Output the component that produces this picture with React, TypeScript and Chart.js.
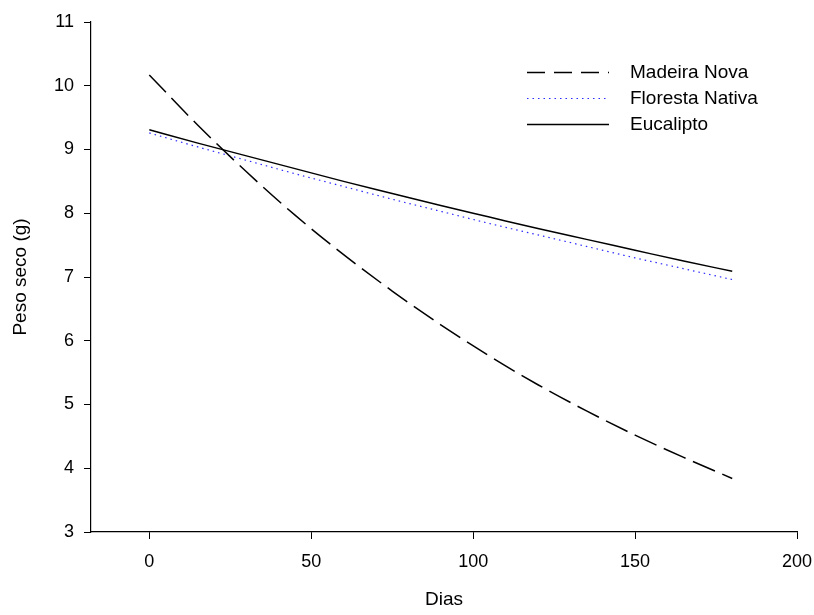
import React, { useEffect, useRef } from "react";
import { Chart, registerables } from "chart.js";

Chart.register(...registerables);

// Data
const days = [0, 15, 30, 45, 60, 75, 90, 105, 120, 135, 150, 165, 180];
const madeiraNova = [10.17, 9.38, 8.65, 7.97, 7.35, 6.78, 6.25, 5.76, 5.31, 4.9, 4.52, 4.17, 3.84];
const florestaNativa = [9.26, 9.04, 8.83, 8.62, 8.42, 8.22, 8.03, 7.84, 7.66, 7.48, 7.3, 7.13, 6.96];
const eucalipto = [9.31, 9.1, 8.9, 8.7, 8.5, 8.31, 8.12, 7.94, 7.76, 7.59, 7.42, 7.25, 7.09];
const seriesLabels = ["Madeira Nova", "Floresta Nativa", "Eucalipto"];
const xTicks = [0, 50, 100, 150, 200];
const yTicks = [3, 4, 5, 6, 7, 8, 9, 10, 11];
const xTitle = "Dias";
const yTitle = "Peso seco (g)";

const FONT = "'Liberation Sans', Arial, Helvetica, sans-serif";

const legendPlugin = {
  id: "insideLegend",
  afterDraw(chart: any) {
    const ctx = chart.ctx;
    const x0 = 527;
    const x1 = 609;
    const tx = 630;
    const rows = [72, 98, 124];
    ctx.save();
    chart.data.datasets.forEach((ds: any, i: number) => {
      const y = rows[i];
      ctx.beginPath();
      ctx.strokeStyle = ds.borderColor;
      ctx.lineWidth = ds.borderWidth;
      ctx.setLineDash(ds.legendDash || ds.borderDash || []);
      ctx.moveTo(x0, y + 0.5);
      ctx.lineTo(x1, y + 0.5);
      ctx.stroke();
      ctx.setLineDash([]);
      ctx.fillStyle = "#000";
      ctx.font = `19px ${FONT}`;
      ctx.textBaseline = "middle";
      ctx.textAlign = "left";
      ctx.fillText(ds.label, tx, y + 1);
    });
    ctx.restore();
  },
};

export default function App() {
  const ref = useRef<HTMLCanvasElement | null>(null);

  useEffect(() => {
    if (!ref.current) return;
    const mk = (vals: number[]) => days.map((d, i) => ({ x: d, y: vals[i] }));
    const chart = new Chart(ref.current, {
      type: "line",
      data: {
        datasets: [
          {
            label: seriesLabels[0],
            data: mk(madeiraNova),
            borderColor: "#000000",
            borderWidth: 1.5,
            borderDash: [24, 8],
            legendDash: [18, 9],
            pointRadius: 0,
            fill: false,
            cubicInterpolationMode: "monotone",
          } as any,
          {
            label: seriesLabels[1],
            data: mk(florestaNativa),
            borderColor: "#2a2aff",
            borderWidth: 1.2,
            borderDash: [1.5, 4],
            pointRadius: 0,
            fill: false,
            cubicInterpolationMode: "monotone",
          } as any,
          {
            label: seriesLabels[2],
            data: mk(eucalipto),
            borderColor: "#000000",
            borderWidth: 1.5,
            pointRadius: 0,
            fill: false,
            cubicInterpolationMode: "monotone",
          } as any,
        ],
      },
      options: {
        responsive: false,
        animation: false,
        devicePixelRatio: 1,
        layout: { padding: { top: 22, right: 17, left: 0, bottom: 0 } },
        plugins: {
          legend: { display: false },
          tooltip: { enabled: false },
        },
        scales: {
          x: {
            type: "linear",
            min: -18,
            max: 200,
            position: "bottom",
            afterBuildTicks: (s: any) => {
              s.ticks = xTicks.map((v) => ({ value: v }));
            },
            afterFit: (s: any) => {
              s.height = 83;
              s.paddingLeft = 0;
              s.paddingRight = 0;
            },
            grid: {
              display: true,
              drawOnChartArea: false,
              drawTicks: true,
              tickLength: 7,
              color: "#000",
              lineWidth: 1,
            },
            border: { display: true, color: "#000", width: 1.2 },
            ticks: {
              color: "#000",
              font: { family: FONT, size: 18 },
              padding: 12,
              maxRotation: 0,
            },
            title: {
              display: true,
              text: xTitle,
              color: "#000",
              font: { family: FONT, size: 19 },
              padding: { top: 0, bottom: 4 },
            },
          },
          y: {
            type: "linear",
            min: 3,
            max: 11,
            afterBuildTicks: (s: any) => {
              s.ticks = yTicks.map((v) => ({ value: v }));
            },
            afterFit: (s: any) => {
              s.width = 91;
              s.paddingTop = 0;
              s.paddingBottom = 0;
            },
            grid: {
              display: true,
              drawOnChartArea: false,
              drawTicks: true,
              tickLength: 7,
              color: "#000",
              lineWidth: 1,
            },
            border: { display: true, color: "#000", width: 1.2 },
            ticks: {
              color: "#000",
              font: { family: FONT, size: 18 },
              padding: 10,
            },
            title: {
              display: true,
              text: yTitle,
              color: "#000",
              font: { family: FONT, size: 19 },
              padding: { top: 9, bottom: 0 },
            },
          },
        },
      },
      plugins: [legendPlugin],
    });
    return () => chart.destroy();
  }, []);

  return (
    <div style={{ position: "fixed", left: 0, top: 0, width: 814, height: 615, background: "#fff" }}>
      <canvas ref={ref} width={814} height={615} style={{ display: "block" }} />
    </div>
  );
}
